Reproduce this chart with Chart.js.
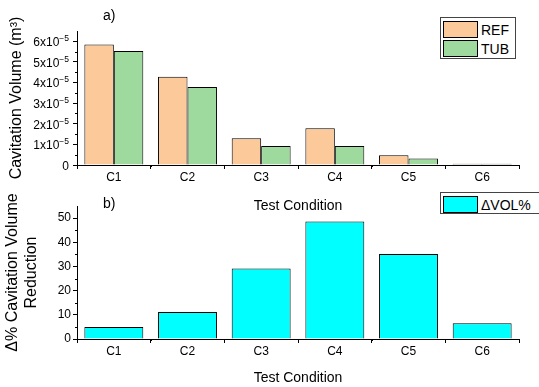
<!DOCTYPE html>
<html>
<head>
<meta charset="utf-8">
<script src="https://cdn.jsdelivr.net/npm/chart.js@4"></script>
<style>
  html, body { margin: 0; padding: 0; background: #fff; }
  body { width: 539px; height: 387px; position: relative; overflow: hidden; font-family: "Liberation Sans", Arial, sans-serif; }
  canvas { position: absolute; left: 0; }
  #top-wrap { position: absolute; left: 0; top: 0; width: 539px; height: 215px; }
  #bot-wrap { position: absolute; left: 0; top: 190px; width: 539px; height: 197px; }
  .legend { position: absolute; border: 1px solid #444; background: #fff; box-sizing: border-box; padding: 2px 0 0 2px; }
  .legend .item { display: flex; align-items: center; height: 19px; font-size: 14px; color: #000; }
  .legend .sw { width: 35px; height: 17px; box-sizing: border-box; border: 1px solid #000; margin-right: 3px; }
  .tag { position: absolute; font-size: 14px; color: #000; }
</style>
</head>
<body>
<div id="top-wrap"><canvas id="top-chart" width="539" height="215"></canvas></div>
<div id="bot-wrap"><canvas id="bot-chart" width="539" height="197"></canvas></div>
<div class="tag" style="left:103px; top:7px;">a)</div>
<div class="tag" style="left:103px; top:195px;">b)</div>
<div id="legend-top" class="legend" style="left:440px; top:17px; width:76px; height:42px;"></div>
<div id="legend-bot" class="legend" style="left:440px; top:192px; width:110px; height:22px;"></div>
<script>
const CATEGORIES = ['C1', 'C2', 'C3', 'C4', 'C5', 'C6'];
const REF_VOL = [5.84e-5, 4.28e-5, 1.30e-5, 1.78e-5, 0.47e-5, 0.06e-5];
const TUB_VOL = [5.53e-5, 3.78e-5, 0.92e-5, 0.92e-5, 0.31e-5, 0.06e-5];
const DVOL_PCT = [5.0, 11.2, 29.2, 48.6, 35.1, 6.5];

const REF_COLOR = '#FCC99A';
const TUB_COLOR = '#9ED99D';
const DVOL_COLOR = '#00FFFF';

const FONT = '"Liberation Sans", Arial, sans-serif';

// minor ticks: y between majors, x at category boundaries
const minorTicks = {
  id: 'minorTicks',
  afterDraw(chart) {
    const ctx = chart.ctx;
    const x = chart.scales.x;
    const y = chart.scales.y;
    ctx.save();
    ctx.strokeStyle = '#000';
    ctx.lineWidth = 1;
    ctx.beginPath();
    const step = chart.options.scales.y.ticks.stepSize;
    for (let v = step / 2; v < y.max; v += step) {
      const py = Math.round(y.getPixelForValue(v)) + 0.5;
      ctx.moveTo(y.right, py);
      ctx.lineTo(y.right - 2, py);
    }
    const half = (x.getPixelForValue(1) - x.getPixelForValue(0)) / 2;
    for (let i = 0; i <= CATEGORIES.length; i++) {
      const px = Math.round(x.getPixelForValue(i) - half) + 0.5;
      ctx.moveTo(px, x.top);
      ctx.lineTo(px, x.top + 2);
    }
    ctx.stroke();
    ctx.restore();
  }
};

// y labels like "6x10^-5" with a real superscript
const sciLabels = {
  id: 'sciLabels',
  afterDraw(chart) {
    const ctx = chart.ctx;
    const y = chart.scales.y;
    ctx.save();
    ctx.fillStyle = '#000';
    ctx.textBaseline = 'middle';
    ctx.textAlign = 'right';
    y.ticks.forEach(t => {
      const n = Math.round(t.value * 1e5);
      const py = y.getPixelForValue(t.value) + 1.5;
      const xr = y.right - 8;
      if (n === 0) {
        ctx.font = '12px ' + FONT;
        ctx.fillText('0', xr, py);
        return;
      }
      ctx.font = '8.5px ' + FONT;
      const exp = '\u22125';
      const ew = ctx.measureText(exp).width;
      ctx.fillText(exp, xr, py - 4);
      ctx.font = '12px ' + FONT;
      ctx.fillText(n + 'x10', xr - ew, py);
    });
    ctx.restore();
  }
};

function baseOptions(cfg) {
  return {
    responsive: false,
    animation: false,
    layout: { padding: { top: cfg.padTop, right: 20, left: 0, bottom: 0 } },
    plugins: { legend: { display: false }, tooltip: { enabled: false } },
    scales: {
      x: {
        afterFit: s => { s.height = cfg.xHeight; },
        grid: { display: true, drawOnChartArea: false, drawTicks: true, tickLength: 4, color: '#000' },
        border: { display: true, color: '#000', width: 1 },
        ticks: { color: '#000', font: { family: FONT, size: 12 }, padding: 1, maxRotation: 0 },
        title: { display: true, text: 'Test Condition', color: '#000', font: { family: FONT, size: 14 }, padding: { top: 1, bottom: 0 } }
      },
      y: {
        min: 0,
        max: cfg.yMax,
        afterFit: s => { s.width = 77; },
        grid: { display: true, drawOnChartArea: false, drawTicks: true, tickLength: 4, color: '#000' },
        border: { display: true, color: '#000', width: 1 },
        ticks: { display: cfg.showTicks, stepSize: cfg.step, includeBounds: false, color: '#000', font: { family: FONT, size: 12 }, padding: 2 },
        title: { display: true, text: cfg.yTitle, color: '#000', font: { family: FONT, size: 16, lineHeight: cfg.titleLH }, padding: { top: cfg.titlePad, bottom: 0 } }
      }
    }
  };
}

const topChart = new Chart(document.getElementById('top-chart'), {
  type: 'bar',
  data: {
    labels: CATEGORIES,
    datasets: [
      { label: 'REF', data: REF_VOL, backgroundColor: REF_COLOR, borderColor: '#000', borderWidth: 1, categoryPercentage: 0.8, barPercentage: 1 },
      { label: 'TUB', data: TUB_VOL, backgroundColor: TUB_COLOR, borderColor: '#000', borderWidth: 1, categoryPercentage: 0.8, barPercentage: 1 }
    ]
  },
  options: baseOptions({
    padTop: 31, xHeight: 50, yMax: 6.5e-5, step: 1e-5, showTicks: false,
    yTitle: 'Cavitation Volume (m³)', titleLH: 1.2, titlePad: 7
  }),
  plugins: [minorTicks, sciLabels]
});

const botChart = new Chart(document.getElementById('bot-chart'), {
  type: 'bar',
  data: {
    labels: CATEGORIES,
    datasets: [
      { label: 'ΔVOL%', data: DVOL_PCT, backgroundColor: DVOL_COLOR, borderColor: '#000', borderWidth: 1, categoryPercentage: 0.8, barPercentage: 1 }
    ]
  },
  options: baseOptions({
    padTop: 16, xHeight: 48, yMax: 55, step: 10, showTicks: true,
    yTitle: ['Δ% Cavitation Volume', 'Reduction'], titleLH: 1.2, titlePad: 3
  }),
  plugins: [minorTicks]
});

function renderLegend(el, chart) {
  el.innerHTML = chart.data.datasets.map(ds =>
    `<div class="item"><span class="sw" style="background:${ds.backgroundColor}"></span>${ds.label}</div>`
  ).join('');
}
renderLegend(document.getElementById('legend-top'), topChart);
renderLegend(document.getElementById('legend-bot'), botChart);
</script>
</body>
</html>
